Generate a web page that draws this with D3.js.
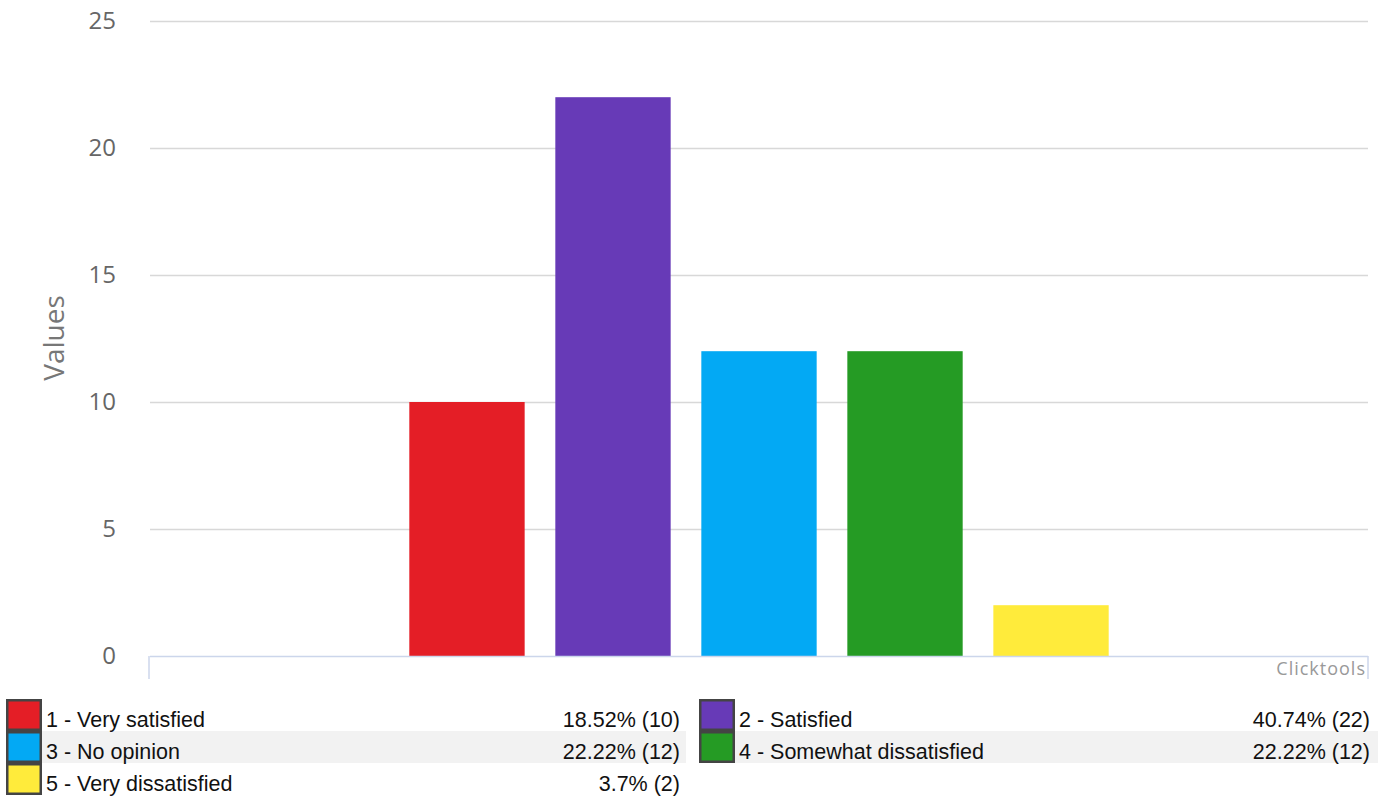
<!DOCTYPE html>
<html><head><meta charset="utf-8">
<script src="https://cdn.jsdelivr.net/npm/d3@7"></script>
<style>body{margin:0;background:#fff;}svg{display:block;}</style>
</head><body>
<svg id="chart" width="1387" height="798"></svg>
<script>
const categories = ["1 - Very satisfied","2 - Satisfied","3 - No opinion","4 - Somewhat dissatisfied","5 - Very dissatisfied"];
const values = [10, 22, 12, 12, 2];
const percents = ["18.52%","40.74%","22.22%","22.22%","3.7%"];
const colors = ["#e41e26","#673ab7","#03a9f4","#259b24","#ffeb3b"];
const yTicks = [0,5,10,15,20,25];

(function(){
const svg = d3.select("#chart");
const pLeft = 150, pRight = 1368, pTop = 21, pBottom = 656;

const y = d3.scaleLinear().domain([0,25]).range([pBottom, pTop]);
const x = d3.scaleBand().domain(categories).range([pLeft, pRight]).paddingInner(0.21).paddingOuter(1.776);

// gridlines
svg.append("g").selectAll("line").data(yTicks.filter(d=>d>0)).join("line")
  .attr("x1", pLeft).attr("x2", pRight)
  .attr("y1", d=>Math.round(y(d))+0.5).attr("y2", d=>Math.round(y(d))+0.5)
  .attr("stroke", "#d8d8d8").attr("stroke-width", 1.5);

// y axis labels
const yAxis = d3.axisLeft(y).tickValues(yTicks).tickSize(0).tickPadding(0);
const gy = svg.append("g").attr("transform", `translate(116,0)`).call(yAxis);
gy.select(".domain").remove();
gy.selectAll("text").attr("font-family","'Open Sans', sans-serif").attr("font-size", 24).attr("fill","#666");

svg.append("text").attr("transform", `translate(64,${338}) rotate(-90)`)
  .attr("text-anchor","middle").attr("font-family","'Open Sans', sans-serif")
  .attr("font-size", 28).attr("fill","#777").text("Values");

// bars
svg.append("g").selectAll("rect").data(categories).join("rect")
  .attr("x", d=>x(d)).attr("width", x.bandwidth())
  .attr("y", (d,i)=>y(values[i])).attr("height", (d,i)=>pBottom - y(values[i]))
  .attr("fill", (d,i)=>colors[i]);

// x axis line
const xa = svg.append("g");
xa.append("line").attr("x1", pLeft).attr("x2", pRight).attr("y1", pBottom+0.5).attr("y2", pBottom+0.5).attr("stroke","#ccd6eb").attr("stroke-width",1.5);
xa.append("line").attr("x1", pLeft-1).attr("x2", pLeft-1).attr("y1", pBottom).attr("y2", 679).attr("stroke","#ccd6eb").attr("stroke-width",1.5);
xa.append("line").attr("x1", pRight).attr("x2", pRight).attr("y1", pBottom).attr("y2", 679).attr("stroke","#ccd6eb").attr("stroke-width",1.5);
svg.append("text").attr("x", 1366).attr("y", 675).attr("text-anchor","end")
  .attr("font-family","'Open Sans', sans-serif").attr("font-size", 18).attr("fill","#999")
  .attr("letter-spacing","1").text("Clicktools");

// legend
const rowH = 32, legTop = 699;
const cols = [{sx:6, tx:46, vx:680, bgx:42, bgx2:686},{sx:699, tx:739, vx:1370, bgx:735, bgx2:1378}];
const leg = svg.append("g");
categories.forEach((c,i)=>{
  const row = Math.floor(i/2), col = cols[i%2];
  const yy = legTop + row*rowH;
  if (row === 1) {
    leg.append("rect").attr("x", col.bgx).attr("y", yy).attr("width", col.bgx2-col.bgx).attr("height", rowH).attr("fill","#f2f2f2");
  }
});
categories.forEach((c,i)=>{
  const row = Math.floor(i/2), col = cols[i%2];
  const yy = legTop + row*rowH;
  leg.append("rect").attr("x", col.sx+1.25).attr("y", yy+1.25).attr("width", 36-2.5).attr("height", rowH-2.5)
    .attr("fill", colors[i]).attr("stroke","#444").attr("stroke-width",2.5);
  leg.append("text").attr("x", col.tx).attr("y", yy+28).attr("font-family","'Liberation Sans', Arial, sans-serif")
    .attr("font-size", 21.5).attr("fill","#111").text(c);
  leg.append("text").attr("x", col.vx).attr("y", yy+28).attr("text-anchor","end").attr("font-family","'Liberation Sans', Arial, sans-serif")
    .attr("font-size", 21.5).attr("fill","#111").text(`${percents[i]} (${values[i]})`);
});
})();
</script>
</body></html>
